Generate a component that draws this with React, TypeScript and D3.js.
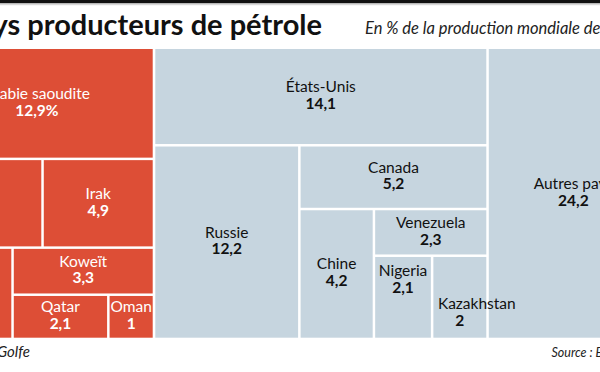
import * as d3 from "d3";

// Gulf countries (red block)
const gulfNames = ["Arabie saoudite", "Iran", "Irak", "EAU", "Koweït", "Qatar", "Oman"];
const gulfValues = [12.9, 5.4, 4.9, 4.2, 3.3, 2.1, 1];

// Other producers (blue block)
const otherNames = ["États-Unis", "Russie", "Canada", "Chine", "Venezuela", "Nigeria", "Kazakhstan", "Autres pays"];
const otherValues = [14.1, 12.2, 5.2, 4.2, 2.3, 2.1, 2, 24.2];

// how the cells are nested: "slice" stacks vertically, "dice" side by side
type Split = { dir: "slice" | "dice"; kids: (number | Split)[] };
const gulfTree: Split = {
  dir: "slice",
  kids: [0, { dir: "dice", kids: [1, 2] }, { dir: "dice", kids: [3, { dir: "slice", kids: [4, { dir: "dice", kids: [5, 6] }] }] }],
};
const otherTree: Split = {
  dir: "dice",
  kids: [
    {
      dir: "slice",
      kids: [0, { dir: "dice", kids: [1, { dir: "slice", kids: [2, { dir: "dice", kids: [3, { dir: "slice", kids: [4, { dir: "dice", kids: [5, 6] }] }] }] }] }],
    },
    7,
  ],
};

// hand nudges for crowded labels
const nameShift: Record<string, [number, number]> = { Nigeria: [0, -17], Kazakhstan: [17, 16], "Autres pays": [-10, 0] };
const valueShift: Record<string, [number, number]> = { Nigeria: [0, -17], Kazakhstan: [0, 16], "Autres pays": [-10, 0] };

const W = 600;
const H = 372;
const FONT = "Lato, 'Open Sans', sans-serif";

const build = (t: Split | number, names: string[], values: number[]): any =>
  typeof t === "number"
    ? { name: names[t], value: values[t] }
    : { dir: t.dir, children: t.kids.map((k) => build(k, names, values)) };

const layout = (tree: Split, names: string[], values: number[], x0: number, x1: number, y0: number, y1: number) => {
  const root = d3.hierarchy(build(tree, names, values)).sum((d: any) => d.value || 0);
  d3
    .treemap<any>()
    .tile((node: any, a, b, c, d) => (node.data.dir === "slice" ? d3.treemapSlice : d3.treemapDice)(node, a, b, c, d))
    .size([x1 - x0, y1 - y0])
    .paddingInner(2.5)(root);
  return root.leaves().map((l: any) => ({ name: l.data.name, value: l.data.value, x0: l.x0 + x0, x1: l.x1 + x0, y0: l.y0 + y0, y1: l.y1 + y0 }));
};

const fmt = (v: number) => String(v).replace(".", ",");

const Rects = ({ cells, fill }: { cells: any[]; fill: string }) => (
  <g>
    {cells.map((c) => (
      <rect key={c.name} x={c.x0} y={c.y0} width={c.x1 - c.x0} height={c.y1 - c.y0} fill={fill} />
    ))}
  </g>
);

const Labels = ({ cells, ink, pct }: { cells: any[]; ink: string; pct?: string }) => (
  <g fill={ink} textAnchor="middle" fontSize={15.5}>
    {cells.map((c) => {
      const cx = (c.x0 + c.x1) / 2;
      const cy = (c.y0 + c.y1) / 2;
      const ns = nameShift[c.name] || [0, 0];
      const vs = valueShift[c.name] || [0, 0];
      return (
        <g key={c.name}>
          <text x={cx + ns[0]} y={cy - 4.5 + ns[1]}>{c.name}</text>
          <text x={cx + vs[0]} y={cy + 12.3 + vs[1]} fontWeight="bold">
            {fmt(c.value) + (c.name === pct ? "%" : "")}
          </text>
        </g>
      );
    })}
  </g>
);

export default function App() {
  const gulf = layout(gulfTree, gulfNames, gulfValues, -79, 152.7, 49, 337.7);
  const other = layout(otherTree, otherNames, otherValues, 155.3, 678, 49, 337.7);

  return (
    <svg width={W} height={H} style={{ position: "absolute", left: 0, top: 0, background: "#fff" }} fontFamily={FONT}>
      <rect x={0} y={0} width={W} height={3.3} fill="#111" />
      <rect x={0} y={4.2} width={W} height={1} fill="#cfcfcf" />
      <text x={322} y={35} textAnchor="end" fontSize={29} fontWeight="bold" fill="#111">
        Les principaux pays producteurs de pétrole
      </text>
      <text x={365} y={34} fontSize={16.5} fontStyle="italic" fill="#222">
        En % de la production mondiale de pétrole en 2017
      </text>
      <Rects cells={gulf} fill="#dd4e36" />
      <Rects cells={other} fill="#c6d5df" />
      <Labels cells={gulf} ink="#fff" pct="Arabie saoudite" />
      <Labels cells={other} ink="#111" />
      <text x={30} y={357} textAnchor="end" fontSize={15} fontStyle="italic" fill="#222">
        Pays du Golfe
      </text>
      <text x={551.5} y={357} fontSize={12.5} fontStyle="italic" fill="#222">
        Source : BP
      </text>
    </svg>
  );
}
